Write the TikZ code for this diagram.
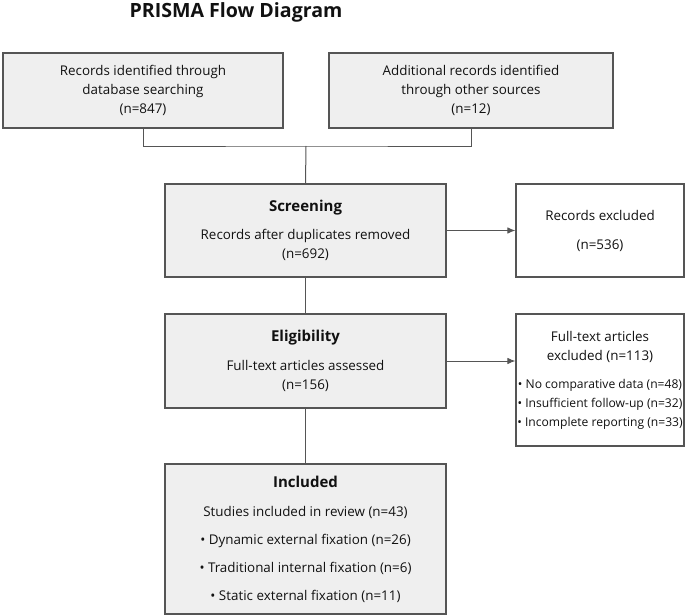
\documentclass[tikz,border=0pt]{standalone}
\usepackage{fontspec}
\setmainfont{Open Sans}
\usetikzlibrary{arrows.meta}
\definecolor{boxfill}{HTML}{EFEFEF}
\definecolor{boxline}{HTML}{555555}
\definecolor{txt}{HTML}{111111}
\tikzset{
  box/.style={draw=boxline, line width=1.1pt, inner sep=0pt, align=center, text=txt,
    font=\fontsize{13.4}{19}\selectfont},
  graybox/.style={box, fill=boxfill},
  whitebox/.style={box, fill=white},
  conn/.style={draw=boxline, line width=1pt},
  arr/.style={conn, -{Latex[length=8pt,width=6.5pt]}},
}
\newcommand{\hd}[1]{{\fontsize{15}{17}\selectfont\bfseries #1}}
\newcommand{\sm}[1]{{\fontsize{12.1}{13}\selectfont #1}}
\begin{document}
\begin{tikzpicture}[x=1pt,y=-1pt]
\useasboundingbox (0,0) rectangle (685,615);
\node[font=\fontsize{19.6}{22}\selectfont\bfseries, text=txt] (title) at (236,12) {PRISMA Flow Diagram};
\node[graybox, minimum width=280pt, minimum height=75pt] (b1) at (143,90.5)
  {Records identified through\\database searching\\(n=847)};
\node[graybox, minimum width=284pt, minimum height=75pt] (b2) at (471,90.5)
  {Additional records identified\\through other sources\\(n=12)};
\node[graybox, minimum width=281pt, minimum height=93pt] (scr) at (305.5,230.5)
  {\hd{Screening}\\[9pt]Records after duplicates removed\\(n=692)};
\node[whitebox, minimum width=168pt, minimum height=93pt] (ex1) at (600,230.5)
  {Records excluded\\[10pt](n=536)};
\node[graybox, minimum width=281pt, minimum height=94pt] (elig) at (305.5,361)
  {\hd{Eligibility}\\[10pt]Full-text articles assessed\\(n=156)};
\node[whitebox, minimum width=168pt, minimum height=132pt] (ex2) at (600,380)
  {Full-text articles\\excluded (n=113)\\[9pt]\sm{• No comparative data (n=48)}\\\sm{• Insufficient follow-up (n=32)}\\\sm{• Incomplete reporting (n=33)}};
\node[graybox, minimum width=281pt, minimum height=150pt] (inc) at (305.5,539)
  {\hd{Included}\\[10pt]Studies included in review (n=43)\\[9pt]• Dynamic external fixation (n=26)\\[9pt]• Traditional internal fixation (n=6)\\[9pt]• Static external fixation (n=11)};
\coordinate (j) at (306,146);
\draw[conn] (b1.south) |- (j) -| (b2.south);
\draw[conn] (j) -- (scr.north);
\draw[arr] (scr.east) -- (ex1.west);
\draw[arr] (elig.east) -- (elig.east -| ex2.west);
\draw[conn] (scr.south) -- (elig.north);
\draw[conn] (elig.south) -- (inc.north);
\end{tikzpicture}
\end{document}
